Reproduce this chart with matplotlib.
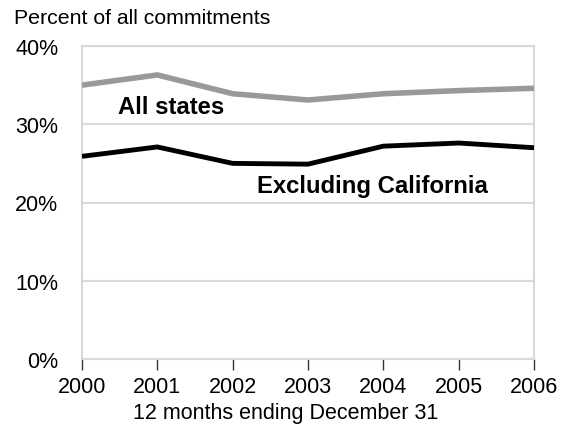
import matplotlib.pyplot as plt

years = [2000, 2001, 2002, 2003, 2004, 2005, 2006]
all_states = [35.0, 36.3, 33.9, 33.1, 33.9, 34.3, 34.6]
excl_california = [25.9, 27.1, 25.0, 24.9, 27.2, 27.6, 27.0]
yticks = [0, 10, 20, 30, 40]

plt.rcParams["font.family"] = ["Liberation Sans", "DejaVu Sans"]

fig = plt.figure(figsize=(5.66, 4.27), dpi=100)
ax = fig.add_axes([82 / 566, 1 - 360 / 427, 452 / 566, 313 / 427])

ax.plot(years, all_states, color="#999999", lw=4, solid_capstyle="butt", zorder=3)
ax.plot(years, excl_california, color="black", lw=3.5, solid_capstyle="butt", zorder=3)

ax.set_xlim(2000, 2006)
ax.set_ylim(0, 40)
ax.set_yticks(yticks)
ax.set_yticklabels([f"{v}%" for v in yticks])
ax.set_xticks(years)
ax.grid(axis="y", color="#d9d9d9", lw=1.5)
ax.set_axisbelow(True)
for s in ax.spines.values():
    s.set_color("#d9d9d9")
    s.set_linewidth(1.5)
ax.tick_params(axis="y", length=0, labelsize=15.5, pad=17)
ax.tick_params(axis="x", length=8, width=1, color="#333333", labelsize=15.5, pad=4, direction="out")

ax.text(2000.48, 32.3, "All states", fontsize=17.2, fontweight="bold", va="center")
ax.text(2002.32, 22.2, "Excluding California", fontsize=17.2, fontweight="bold", va="center")

fig.text(14 / 566, 1 - 18 / 427, "Percent of all commitments", fontsize=15.3, va="center")
ax.set_xlabel("12 months ending December 31", fontsize=15.5, labelpad=4)
ax.xaxis.label.set_x(204 / 452)

fig.savefig("out.png", dpi=100)
